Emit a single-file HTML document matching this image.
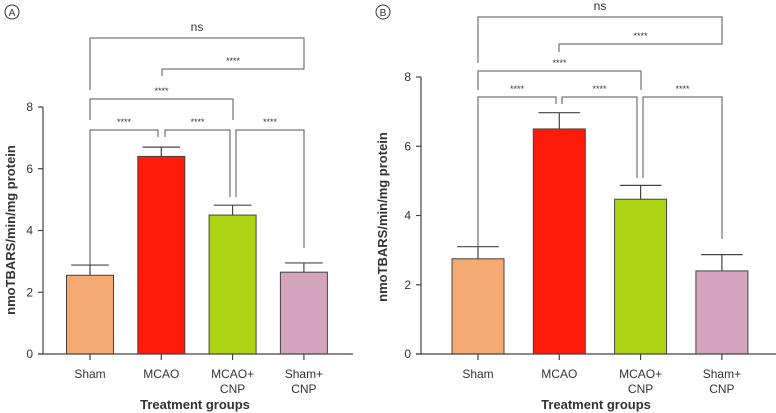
<!DOCTYPE html>
<html><head><meta charset="utf-8"><style>
body{margin:0;background:#fff;}
svg{display:block;font-family:"Liberation Sans",Arial,sans-serif;}
</style></head><body>
<svg id="c" width="776" height="413" viewBox="0 0 776 413"></svg>
<script>
const categories = ["Sham","MCAO","MCAO+\nCNP","Sham+\nCNP"];
const colors = ["#f4a872","#ff1a0a","#acd412","#d4a4bd"];
const valuesA = [2.55, 6.4, 4.5, 2.65];
const errorsA = [0.33, 0.3, 0.32, 0.3];
const valuesB = [2.75, 6.5, 4.47, 2.4];
const errorsB = [0.35, 0.47, 0.4, 0.47];
const yTicks = [0,2,4,6,8];

const svg = document.getElementById('c');
const NS = 'http://www.w3.org/2000/svg';
function mk(tag, attrs, parent){
  const e = document.createElementNS(NS, tag);
  for (const k in attrs) e.setAttribute(k, attrs[k]);
  (parent||svg).appendChild(e);
  return e;
}
function panel(cfg){
  const g = mk('g', {});
  
  
  const y = v => cfg.y0 - v * (cfg.y0 - cfg.y8) / 8;
  const x = i => cfg.xc0 + i * cfg.step;
  cfg.values.forEach((v,i)=>{
    const r = mk('rect', {x:x(i)-cfg.bw/2, y:y(v), width:cfg.bw, height:y(0)-y(v), fill:colors[i], stroke:'#444', 'stroke-width':1}, g);
    
    
    const top = y(v + cfg.errors[i]);
    const e = mk('path', {d:`M${x(i)} ${y(v)}V${top}M${x(i)-cfg.bw*0.4} ${top}H${x(i)+cfg.bw*0.4}`, stroke:'#444', 'stroke-width':1.2, fill:'none'}, g);
    
    
  });
  const ax = mk('path', {d:`M${cfg.ax} ${cfg.y8}V${y(0)}M${cfg.ax-5} ${y(0)}H${cfg.xend}`, stroke:'#444', 'stroke-width':1.2, fill:'none'}, g);
  
  
  yTicks.forEach(t=>{
    mk('path', {d:`M${cfg.ax-5} ${y(t)}H${cfg.ax}`, stroke:'#444', 'stroke-width':1.2}, g);
    const tx = mk('text', {x:cfg.ax-10, y:y(t)+4, 'text-anchor':'end', 'font-size':12, fill:'#333'}, g);
    tx.textContent = t;
    
    
  });
  categories.forEach((c,i)=>{
    mk('path', {d:`M${x(i)} ${y(0)}V${y(0)+6}`, stroke:'#444', 'stroke-width':1.2}, g);
    c.split('\n').forEach((line,j)=>{
      const t = mk('text', {x:x(i), y:y(0)+24+j*15, 'text-anchor':'middle', 'font-size':12, fill:'#333'}, g);
      t.textContent = line;
      
      
    });
  });
  const xt = mk('text', {x:cfg.xtx, y:409, 'text-anchor':'middle', 'font-size':13, 'font-weight':'bold', fill:'#333'}, g);
  xt.textContent = 'Treatment groups';
  
  
  const yt = mk('text', {x:0, y:0, transform:`translate(${cfg.ytx},${cfg.yty}) rotate(-90)`, 'text-anchor':'middle', 'font-size':13, 'font-weight':'bold', fill:'#333'}, g);
  yt.textContent = 'nmoTBARS/min/mg protein';
  
  
  cfg.brackets.forEach(b=>{
    const p = mk('path', {d:`M${b[0]} ${b[3]}V${b[2]}H${b[1]}V${b[4]}`, stroke:'#555', 'stroke-width':1, fill:'none'}, g);
    
    
    const t = mk('text', {x:(b[0]+b[1])/2, y:b[2]-(b[5]==='ns'?7:5), 'text-anchor':'middle', 'font-size':b[5]==='ns'?12:9, fill:'#333'}, g);
    t.textContent = b[5];
    
    
  });
  const c = mk('circle', {cx:cfg.lx, cy:12, r:7, fill:'none', stroke:'#333', 'stroke-width':1}, g);
  
  
  const lt = mk('text', {x:cfg.lx, y:16, 'text-anchor':'middle', 'font-size':10, fill:'#333'}, g);
  lt.textContent = cfg.letter;
  
  
}
panel({name:'panel-a', letter:'A', lx:12, values:valuesA, errors:errorsA, y0:354, y8:107, xc0:90, step:71.3, bw:47, ax:43, xend:353, xtx:195, ytx:15, yty:230,
  brackets:[[90,304,38,90,59,'ns'],[162,304,69,76,59,'****'],[90,233,99,120,120,'****'],
    [90,158,130,265,137,'****'],[165,230,130,137,197,'****'],[236,304,130,197,248,'****']]});
panel({name:'panel-b', letter:'B', lx:383, values:valuesB, errors:errorsB, y0:354, y8:77, xc0:478, step:81.3, bw:52, ax:421, xend:776, xtx:596, ytx:387, yty:217,
  brackets:[[478,722,17,63,36,'ns'],[559,722,44,52,36,'****'],[478,641,71,90,90,'****'],
    [478,556,97,248,104,'****'],[562,637,97,104,178,'****'],[643,722,97,178,239,'****']]});
</script>
</body></html>
